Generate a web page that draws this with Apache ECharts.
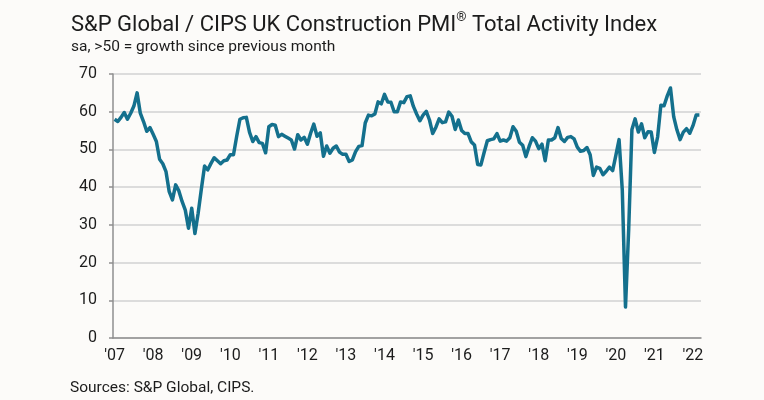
<!DOCTYPE html>
<html>
<head>
<meta charset="utf-8">
<script src="https://cdn.jsdelivr.net/npm/echarts@6/dist/echarts.min.js"></script>
<style>
  html, body { margin: 0; padding: 0; background: #fcfbf9; }
  #chart { width: 764px; height: 400px; }
</style>
</head>
<body>
<div id="chart"></div>
<script>
// monthly index values (Jan 2007 - Mar 2022)
const pmi2007 = [58.0, 57.4, 58.5, 59.8, 58.0, 59.6, 61.5, 65.0, 59.6, 57.4, 54.8, 55.8]
const pmi2008 = [54.0, 52.1, 47.4, 46.2, 44.1, 38.8, 36.6, 40.6, 39.0, 36.2, 33.9, 29.1]
const pmi2009 = [34.4, 27.7, 33.1, 39.5, 45.6, 44.6, 46.3, 47.8, 47.0, 46.2, 47.0, 47.2]
const pmi2010 = [48.6, 48.6, 53.5, 58.0, 58.4, 58.5, 54.5, 52.1, 53.4, 51.8, 51.6, 49.1]
const pmi2011 = [56.0, 56.6, 56.4, 53.4, 54.0, 53.5, 53.0, 52.5, 50.1, 53.9, 52.5, 53.2]
const pmi2012 = [51.4, 54.3, 56.7, 53.5, 54.4, 48.2, 50.9, 49.0, 50.3, 50.9, 49.3, 48.7]
const pmi2013 = [48.7, 46.8, 47.2, 49.4, 50.8, 51.0, 57.0, 59.1, 58.9, 59.4, 62.6, 62.1]
const pmi2014 = [64.6, 62.6, 62.5, 60.0, 60.0, 62.6, 62.4, 64.0, 64.2, 61.4, 59.4, 57.6]
const pmi2015 = [59.1, 60.1, 57.8, 54.2, 55.9, 58.1, 57.1, 57.3, 59.9, 58.8, 55.3, 57.8]
const pmi2016 = [55.0, 54.2, 54.2, 52.0, 51.2, 46.0, 45.9, 49.2, 52.3, 52.6, 52.8, 54.2]
const pmi2017 = [52.2, 52.5, 52.2, 53.1, 56.0, 54.8, 51.9, 51.1, 48.1, 50.8, 53.1, 52.2]
const pmi2018 = [50.2, 51.4, 47.0, 52.5, 52.5, 53.1, 55.8, 52.9, 52.1, 53.2, 53.4, 52.8]
const pmi2019 = [50.6, 49.5, 49.7, 50.5, 48.6, 43.1, 45.3, 45.0, 43.3, 44.2, 45.3, 44.4]
const pmi2020 = [48.4, 52.6, 39.3, 8.2, 28.9, 55.3, 58.1, 54.6, 56.8, 53.1, 54.7, 54.6]
const pmi2021 = [49.2, 53.3, 61.7, 61.6, 64.2, 66.3, 58.7, 55.2, 52.6, 54.6, 55.5, 54.3]
const pmi2022 = [56.3, 59.1, 59.1]

const years = ['2007', '2008', '2009', '2010', '2011', '2012', '2013', '2014',
  '2015', '2016', '2017', '2018', '2019', '2020', '2021', '2022']
const yearData = [pmi2007, pmi2008, pmi2009, pmi2010, pmi2011, pmi2012, pmi2013, pmi2014,
  pmi2015, pmi2016, pmi2017, pmi2018, pmi2019, pmi2020, pmi2021, pmi2022]
const yTicks = [0, 10, 20, 30, 40, 50, 60, 70]

const months = []
const values = []
years.forEach((y, k) => {
  yearData[k].forEach((v, m) => {
    months.push(y + '-' + (m + 1))
    values.push(v)
  })
})

const font = 'Roboto, "Noto Sans", sans-serif'
const ink = '#1c1c1c'

const chart = echarts.init(document.getElementById('chart'))
const option = {
  backgroundColor: '#fcfbf9',
  animation: false,
  title: [
    {
      left: 66,
      top: 6,
      text: '{m|S&P Global / CIPS UK Construction PMI}{r|®}{m| Total Activity Index}',
      textStyle: {
        fontWeight: 'normal',
        rich: {
          m: { fontSize: 22, fontWeight: 'normal', fontFamily: font, color: ink, lineHeight: 28 },
          r: { fontSize: 13, fontWeight: 'normal', fontFamily: font, color: ink, lineHeight: 13, verticalAlign: 'top' }
        }
      }
    },
    {
      left: 66,
      top: 34,
      text: 'sa, >50 = growth since previous month',
      textStyle: { fontSize: 15.5, fontWeight: 'normal', fontFamily: font, color: ink }
    },
    {
      left: 65,
      top: 375,
      text: 'Sources: S&P Global, CIPS.',
      textStyle: { fontSize: 15.5, fontWeight: 'normal', fontFamily: font, color: ink }
    }
  ],
  grid: { left: 113, right: 63, top: 74, bottom: 62, containLabel: false },
  xAxis: {
    type: 'category',
    data: months,
    boundaryGap: true,
    axisLine: { lineStyle: { color: '#8f8f8f', width: 1.5 } },
    axisTick: {
      length: 6,
      interval: (i) => i % 12 === 0,
      lineStyle: { color: '#8f8f8f', width: 1.5 }
    },
    axisLabel: {
      interval: (i) => i % 12 === 0,
      formatter: (v) => "'" + v.slice(2, 4),
      fontSize: 16,
      fontFamily: font,
      color: ink,
      margin: 10
    },
    splitLine: { show: false }
  },
  yAxis: {
    type: 'value',
    min: yTicks[0],
    max: yTicks[yTicks.length - 1],
    interval: 10,
    axisLine: { show: true, lineStyle: { color: '#8f8f8f', width: 1.5 } },
    axisTick: { show: true, length: 4, lineStyle: { color: '#8f8f8f', width: 1.5 } },
    axisLabel: { fontSize: 16, fontFamily: font, color: ink, margin: 16 },
    splitLine: { lineStyle: { color: '#dcdcdc', width: 2 } }
  },
  series: [
    {
      type: 'line',
      data: values,
      symbol: 'none',
      lineStyle: { color: '#14708d', width: 3.5, join: 'round' }
    }
  ]
}
chart.setOption(option)
</script>
</body>
</html>
